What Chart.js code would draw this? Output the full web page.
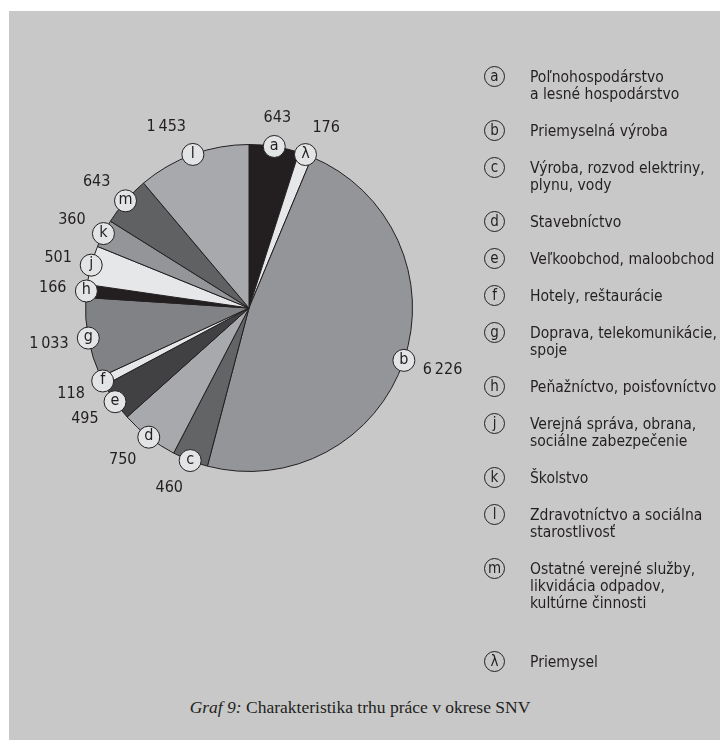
<!DOCTYPE html>
<html lang="sk">
<head>
<meta charset="utf-8">
<title>Graf 9</title>
<script src="https://cdn.jsdelivr.net/npm/chart.js@4"></script>
<style>
  html, body { margin: 0; padding: 0; background: #fff; }
  body { width: 720px; height: 740px; position: relative; overflow: hidden; }
  #panel { position: absolute; left: 9px; top: 11px; right: 0; bottom: 0; background: #c8c8c8; }
  #wrap { position: absolute; left: 0; top: 0; width: 500px; height: 620px; }
  #legend { position: absolute; left: 484px; top: 68px; margin: 0; padding: 0; list-style: none;
            font-family: "Liberation Sans Narrow", "DejaVu Sans Condensed", sans-serif; font-size: 16px;
            line-height: 17px; color: #231f20; }
  #legend li { display: flex; align-items: flex-start; margin-bottom: 20px; }
  #legend li:last-child { margin-top: 42px; }
  #legend .badge { width: 21px; height: 21px; border: 1px solid #231f20; border-radius: 50%;
                   box-sizing: border-box; display: flex; align-items: center; justify-content: center;
                   font-size: 15px; line-height: 1; flex: none; margin: -2px 25px -2px 0; }
  #legend .txt { display: inline-block; white-space: nowrap; transform: scaleX(0.97); transform-origin: left top; }
  #caption { position: absolute; left: 0; width: 720px; top: 697px; text-align: center;
             font-family: "Liberation Serif", "DejaVu Serif", serif; font-size: 17.5px; color: #231f20; }
</style>
</head>
<body>
<div id="panel"></div>
<div id="wrap"><canvas id="pie"></canvas></div>
<ul id="legend"></ul>
<div id="caption"><i>Graf 9:</i> Charakteristika trhu práce v okrese SNV</div>
<script>
// Výseky v poradí od vrcholu v smere hodinových ručičiek
const sliceLetters = ['a', 'λ', 'b', 'c', 'd', 'e', 'f', 'g', 'h', 'j', 'k', 'm', 'l'];
const sliceValues = [643, 176, 6226, 460, 750, 495, 118, 1033, 166, 501, 360, 643, 1453];
const sliceColors = ['#231f20', '#e6e7e8', '#939598', '#636466', '#a7a9ac', '#414042', '#e6e7e8',
                     '#808285', '#231f20', '#e6e7e8', '#939598', '#606163', '#a7a9ac'];

// Legenda
const legendLetters = ['a', 'b', 'c', 'd', 'e', 'f', 'g', 'h', 'j', 'k', 'l', 'm', 'λ'];
const legendNames = [
    'Poľnohospodárstvo<br>a lesné hospodárstvo',
    'Priemyselná výroba',
    'Výroba, rozvod elektriny,<br>plynu, vody',
    'Stavebníctvo',
    'Veľkoobchod, maloobchod',
    'Hotely, reštaurácie',
    'Doprava, telekomunikácie,<br>spoje',
    'Peňažníctvo, poisťovníctvo',
    'Verejná správa, obrana,<br>sociálne zabezpečenie',
    'Školstvo',
    'Zdravotníctvo a sociálna<br>starostlivosť',
    'Ostatné verejné služby,<br>likvidácia odpadov,<br>kultúrne činnosti',
    'Priemysel'
];

const legendEl = document.getElementById('legend');
legendLetters.forEach((l, i) => {
    const li = document.createElement('li');
    li.innerHTML = '<span class="badge">' + l + '</span><span class="txt">' + legendNames[i] + '</span>';
    legendEl.appendChild(li);
});

function fmt(v) {
    return String(v).replace(/\B(?=(\d{3})+(?!\d))/g, '\u2009');
}

const FONT = '"Liberation Sans Narrow", "DejaVu Sans Condensed", sans-serif';

// Písmená v krúžkoch na obvode a hodnoty zvonku
const badgePlugin = {
    id: 'badges',
    afterDatasetsDraw(chart) {
        const ctx = chart.ctx;
        const meta = chart.getDatasetMeta(0);
        ctx.save();
        meta.data.forEach((arc, i) => {
            const p = arc.getProps(['x', 'y', 'startAngle', 'endAngle', 'outerRadius'], true);
            const mid = (p.startAngle + p.endAngle) / 2;
            const dx = Math.cos(mid), dy = Math.sin(mid);
            const bx = p.x + dx * p.outerRadius;
            const by = p.y + dy * p.outerRadius;

            ctx.beginPath();
            ctx.arc(bx, by, 11, 0, Math.PI * 2);
            ctx.fillStyle = '#e3e4e5';
            ctx.fill();
            ctx.lineWidth = 1;
            ctx.strokeStyle = '#231f20';
            ctx.stroke();

            ctx.fillStyle = '#231f20';
            ctx.font = '16px ' + FONT;
            ctx.textAlign = 'center';
            ctx.textBaseline = 'middle';
            ctx.fillText(sliceLetters[i], bx, by - 1);

            const lx = bx + dx * 20;
            const ly = by + dy * 20 + dy * 9;
            ctx.textAlign = dx > 0.3 ? 'left' : (dx < -0.3 ? 'right' : 'center');
            ctx.font = '16px ' + FONT;
            ctx.fillText(fmt(sliceValues[i]), lx, ly);
        });
        ctx.restore();
    }
};

new Chart(document.getElementById('pie'), {
    type: 'pie',
    data: {
        labels: sliceLetters,
        datasets: [{
            data: sliceValues,
            backgroundColor: sliceColors,
            borderColor: '#231f20',
            borderWidth: 1
        }]
    },
    options: {
        responsive: true,
        maintainAspectRatio: false,
        animation: false,
        layout: { padding: { left: 85, top: 144, right: 87, bottom: 148 } },
        plugins: { legend: { display: false }, tooltip: { enabled: false } }
    },
    plugins: [badgePlugin]
});
</script>
</body>
</html>
